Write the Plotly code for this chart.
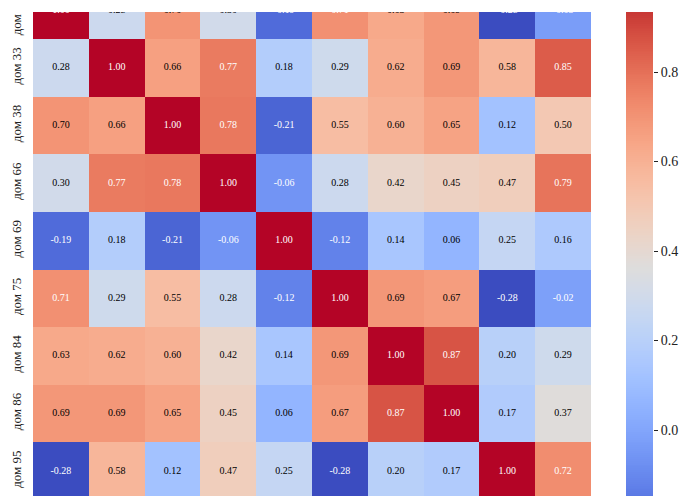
import numpy as np
import plotly.graph_objects as go

# ---- data ----
houses = ["дом 125/1", "дом 33", "дом 38", "дом 66", "дом 69",
          "дом 75", "дом 84", "дом 86", "дом 95", "дом 99"]

row_0 = [1.00, 0.28, 0.70, 0.30, -0.19, 0.71, 0.63, 0.69, -0.28, -0.03]
row_1 = [0.28, 1.00, 0.66, 0.77, 0.18, 0.29, 0.62, 0.69, 0.58, 0.85]
row_2 = [0.70, 0.66, 1.00, 0.78, -0.21, 0.55, 0.60, 0.65, 0.12, 0.50]
row_3 = [0.30, 0.77, 0.78, 1.00, -0.06, 0.28, 0.42, 0.45, 0.47, 0.79]
row_4 = [-0.19, 0.18, -0.21, -0.06, 1.00, -0.12, 0.14, 0.06, 0.25, 0.16]
row_5 = [0.71, 0.29, 0.55, 0.28, -0.12, 1.00, 0.69, 0.67, -0.28, -0.02]
row_6 = [0.63, 0.62, 0.60, 0.42, 0.14, 0.69, 1.00, 0.87, 0.20, 0.29]
row_7 = [0.69, 0.69, 0.65, 0.45, 0.06, 0.67, 0.87, 1.00, 0.17, 0.37]
row_8 = [-0.28, 0.58, 0.12, 0.47, 0.25, -0.28, 0.20, 0.17, 1.00, 0.72]
row_9 = [-0.03, 0.85, 0.50, 0.79, 0.16, -0.02, 0.29, 0.37, 0.72, 1.00]

cbar_ticks = [0.0, 0.2, 0.4, 0.6, 0.8]

# ---- coolwarm colormap (Moreland) ----
cw = [(59, 76, 192), (68, 90, 204), (77, 104, 215), (87, 117, 225), (98, 130, 234),
      (108, 142, 241), (119, 154, 247), (130, 165, 251), (141, 176, 254), (152, 185, 255),
      (163, 194, 255), (174, 201, 253), (184, 208, 249), (194, 213, 244), (204, 217, 238),
      (213, 219, 230), (221, 221, 221), (229, 216, 209), (236, 211, 197), (241, 204, 185),
      (245, 196, 173), (247, 187, 160), (247, 177, 148), (247, 166, 135), (244, 154, 123),
      (241, 141, 111), (236, 127, 99), (229, 112, 88), (222, 96, 77), (213, 80, 66),
      (203, 62, 56), (192, 40, 47), (180, 4, 38)]
n = len(cw) - 1
colorscale = [[i / n, "rgb(%d,%d,%d)" % c] for i, c in enumerate(cw)]
cw_arr = np.array(cw, dtype=float)
stops = np.linspace(0, 1, n + 1)

Z = np.array([row_0, row_1, row_2, row_3, row_4, row_5, row_6, row_7, row_8, row_9])
zmin, zmax = float(Z.min()), float(Z.max())


def cell_rgb(v):
    t = (v - zmin) / (zmax - zmin)
    return [np.interp(t, stops, cw_arr[:, k]) / 255.0 for k in range(3)]


def lum(rgb):
    lin = [c / 12.92 if c <= 0.03928 else ((c + 0.055) / 1.055) ** 2.4 for c in rgb]
    return 0.2126 * lin[0] + 0.7152 * lin[1] + 0.0722 * lin[2]


nrow, ncol = Z.shape
xs, ys, txt, tcol = [], [], [], []
for i in range(nrow):
    for j in range(ncol):
        xs.append(j)
        ys.append(i)
        txt.append("%.2f" % Z[i, j])
        tcol.append("black" if lum(cell_rgb(Z[i, j])) > 0.408 else "white")

FONT = "Liberation Serif, Times New Roman, serif"
W, H = 684, 496
L = 33
pw = W - L

# pixel geometry of the (cropped) seaborn figure
row_h = 57.6
row0_top = -18.5
y_top = -0.5 + (0 - row0_top) / row_h
y_bot = y_top + H / row_h

cb_px_per_unit = 447.5
cb_top = 0.8 + 72 / cb_px_per_unit
cb_bot = 0.0 - (H - 430) / cb_px_per_unit
cb_vals = np.linspace(zmin, zmax, 300)

fig = go.Figure()
fig.add_trace(go.Heatmap(
    z=Z, x=list(range(ncol)), y=list(range(nrow)),
    colorscale=colorscale, zmin=zmin, zmax=zmax, showscale=False,
    hoverinfo="skip"))
fig.add_trace(go.Scatter(
    x=xs, y=ys, text=txt, mode="text", cliponaxis=True,
    textfont=dict(family=FONT, size=10, color=tcol),
    hoverinfo="skip", showlegend=False))
fig.add_trace(go.Heatmap(
    z=[[v] for v in cb_vals], x=[0], y=cb_vals,
    colorscale=colorscale, zmin=zmin, zmax=zmax, showscale=False,
    hoverinfo="skip", xaxis="x2", yaxis="y2"))

fig.update_layout(
    width=W, height=H,
    margin=dict(l=L, r=0, t=0, b=0),
    paper_bgcolor="white", plot_bgcolor="white",
    font=dict(family=FONT, size=13, color="#222"),
    showlegend=False,
    xaxis=dict(domain=[0, (591 - L) / pw], range=[-0.5, ncol - 0.5],
               tickvals=list(range(ncol)), ticktext=houses, showticklabels=False,
               showgrid=False, zeroline=False, automargin=False, anchor="y"),
    yaxis=dict(domain=[0, 1], range=[y_bot, y_top],
               tickvals=list(range(nrow)), ticktext=houses, tickangle=-90,
               ticks="outside", ticklen=6, tickcolor="rgba(0,0,0,0)",
               ticklabeloverflow="allow",
               showgrid=False, zeroline=False, automargin=False, anchor="x"),
    xaxis2=dict(domain=[(626 - L) / pw, (653 - L) / pw], range=[-0.5, 0.5],
                showticklabels=False, showgrid=False, zeroline=False,
                automargin=False, anchor="y2"),
    yaxis2=dict(domain=[0, 1], range=[cb_bot, cb_top], side="right", anchor="x2",
                tickvals=cbar_ticks, ticktext=["%.1f" % t for t in cbar_ticks],
                ticks="outside", ticklen=4, tickwidth=1, tickcolor="#222",
                showgrid=False, zeroline=False, automargin=False,
                tickfont=dict(family=FONT, size=14)),
    shapes=[dict(type="rect", xref="paper", yref="paper",
                 x0=-0.1, x1=1.1, y0=1 - 12 / H, y1=1.05,
                 fillcolor="white", line=dict(width=0), layer="above")],
)

fig.write_html("out.html", config={"displayModeBar": False},
               post_script="document.body.style.margin='0';")
